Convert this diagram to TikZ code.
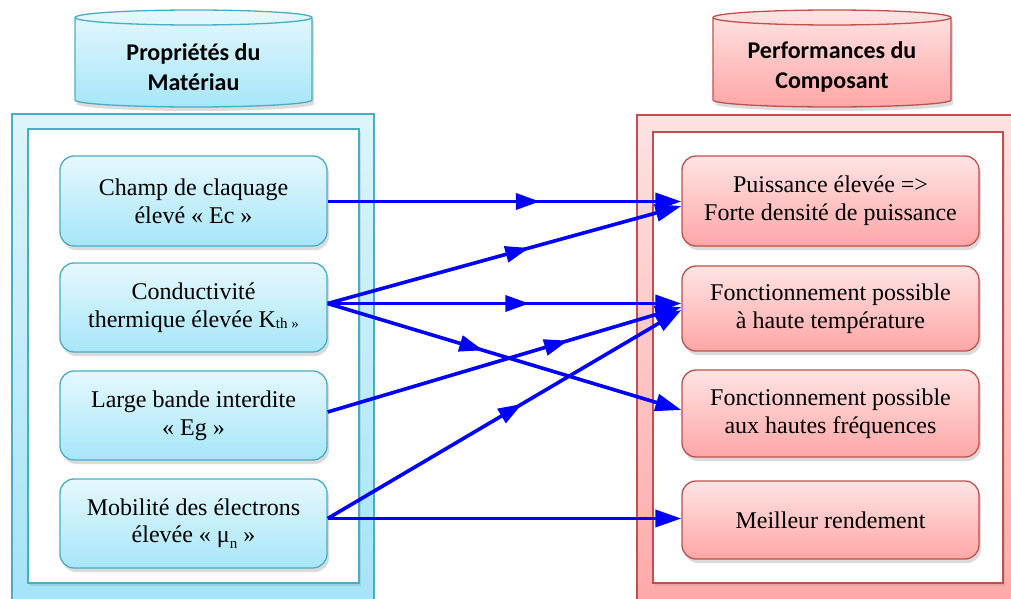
\documentclass[tikz,border=0pt]{standalone}
\usepackage{fontspec}
\setmainfont{Liberation Serif}
\newfontfamily\hdrfont{Carlito}
\usetikzlibrary{arrows.meta,shadows,decorations.markings,calc}
\definecolor{aquaB}{HTML}{4BACC6}
\definecolor{aquaT}{HTML}{E6F8FD}
\definecolor{aquaBot}{HTML}{A6E6F9}
\definecolor{frameT}{HTML}{DDF5FC}
\definecolor{frameBot}{HTML}{A3E4F8}
\definecolor{redB}{HTML}{C0504D}
\definecolor{redT}{HTML}{FFE4E4}
\definecolor{redBot}{HTML}{FFA6A6}
\definecolor{rframeT}{HTML}{FDE2E2}
\definecolor{rframeBot}{HTML}{FFA8A8}
\definecolor{arrowblue}{HTML}{0000FF}
\tikzset{
  boxtext/.style={align=center, inner sep=0pt, font=\fontsize{24}{27.6}\selectfont},
  softshadow/.style={drop shadow={shadow xshift=2pt, shadow yshift=-4pt, opacity=0.28}},
  bluebox/.style={boxtext, draw=aquaB, line width=1.3pt, rounded corners=14pt,
    top color=aquaT, bottom color=aquaBot, minimum width=267pt, softshadow},
  redbox/.style={boxtext, draw=redB, line width=1.3pt, rounded corners=14pt,
    top color=redT, bottom color=redBot, minimum width=297pt, softshadow},
  hdr/.style={align=center, inner sep=0pt, font=\hdrfont\bfseries\fontsize{24}{29.5}\selectfont},
  link/.style={color=arrowblue, line width=3.6pt, -{Triangle[length=26pt,width=17pt]}},
  midarrow/.style={postaction={decorate}, decoration={markings,
    mark=at position #1 with {\arrow{Triangle[length=24pt,width=16pt]}}}}
}
\begin{document}
\begin{tikzpicture}[x=1pt,y=1pt]
\useasboundingbox (0,0) rectangle (1011,-599);
\clip (0,0) rectangle (1011,-599);
% frames
\path[draw=aquaB, line width=1.5pt, top color=frameT, bottom color=frameBot] (12,-114) rectangle (374,-615);
\path[draw=aquaB, line width=1.5pt, fill=white, drop shadow={shadow xshift=2pt, shadow yshift=-3pt, opacity=0.2}] (28,-129) rectangle (359,-583);
\path[draw=redB, line width=1.5pt, top color=rframeT, bottom color=rframeBot] (637,-115) rectangle (1020,-615);
\path[draw=redB, line width=1.5pt, fill=white, drop shadow={shadow xshift=2pt, shadow yshift=-3pt, opacity=0.2}] (653,-132) rectangle (1003,-583);
% cylinders
\path[draw=aquaB, line width=1.3pt, top color=aquaT, bottom color=aquaBot, softshadow]
  (75,-17.5) -- (75,-100) arc[start angle=180, end angle=360, x radius=118.5, y radius=7]
  -- (312,-17.5) arc[start angle=0, end angle=180, x radius=118.5, y radius=7.5] -- cycle;
\draw[aquaB, line width=1.3pt] (75,-17.5) arc[start angle=180, end angle=360, x radius=118.5, y radius=7.5];
\path[draw=redB, line width=1.3pt, top color=redT, bottom color=redBot, softshadow]
  (713,-17.5) -- (713,-100) arc[start angle=180, end angle=360, x radius=119, y radius=7]
  -- (951,-17.5) arc[start angle=0, end angle=180, x radius=119, y radius=7.5] -- cycle;
\draw[redB, line width=1.3pt] (713,-17.5) arc[start angle=180, end angle=360, x radius=119, y radius=7.5];
\node[hdr] (hL) at (193.5,-67) {Propriétés du\\Matériau};
\node[hdr] (hR) at (832,-67) {Performances du\\Composant};
% left boxes
\node[bluebox, minimum height=90pt] (L1) at (193.5,-201) {Champ de claquage\\élevé « Ec »};
\node[bluebox, minimum height=89pt] (L2) at (193.5,-307.5) {Conductivité\\thermique élevée K\raisebox{-1.5pt}{\fontsize{15}{15}\selectfont th »}};
\node[bluebox, minimum height=89pt] (L3) at (193.5,-415.5) {Large bande interdite\\« Eg »};
\node[bluebox, minimum height=89pt] (L4) at (193.5,-523.5) {Mobilité des électrons\\élevée « μ\raisebox{-6pt}{\fontsize{15}{15}\selectfont n} »};
% right boxes
\node[redbox, minimum height=90pt] (R1) at (830.5,-201) {Puissance élevée =>\\Forte densité de puissance};
\node[redbox, minimum height=85pt] (R2) at (830.5,-308.5) {Fonctionnement possible\\à haute température};
\node[redbox, minimum height=87pt] (R3) at (830.5,-413.5) {Fonctionnement possible\\aux hautes fréquences};
\node[redbox, minimum height=78pt] (R4) at (830.5,-520) {Meilleur rendement};
% connectors
\draw[link, midarrow=0.6] ([yshift=-0.5pt]L1.east) -- ([yshift=-0.5pt]R1.west);
\draw[link, midarrow=0.57] ([yshift=4pt]L2.east) -- ([yshift=-5pt]R1.west);
\draw[link, midarrow=0.57] ([yshift=4pt]L2.east) -- ([yshift=5pt]R2.west);
\draw[link, midarrow=0.44] ([yshift=4pt]L2.east) -- ([yshift=3.5pt]R3.west);
\draw[link, midarrow=0.68] ([yshift=3.5pt]L3.east) -- ([yshift=1.5pt]R2.west);
\draw[link, midarrow=0.55] ([yshift=5pt]L4.east) -- ([yshift=-1.5pt]R2.west);
\draw[link] ([yshift=5pt]L4.east) -- ([yshift=1.5pt]R4.west);
\end{tikzpicture}
\end{document}
